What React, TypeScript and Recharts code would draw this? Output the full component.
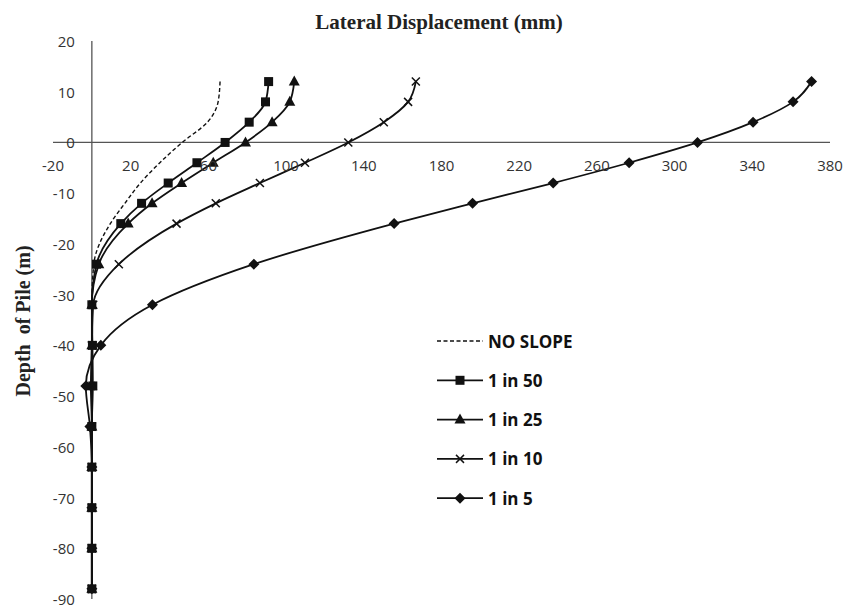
import React from 'react';
import { LineChart, Line, XAxis, YAxis, ReferenceLine } from 'recharts';

// depth of pile (m) at each reading
const depths = [12, 8, 4, 0, -4, -8, -12, -16, -24, -32, -40, -48, -56, -64, -72, -80, -88];

// lateral displacement (mm) per slope case
const noSlope = [66, 65, 59.5, 46.5, 35, 25, 17, 9.5, 1, 0, 0, 0, 0, 0, 0, 0, 0];
const slope50 = [91, 89.4, 81, 68.6, 54.1, 39.3, 25.6, 14.9, 2.4, 0, 0.3, 0.5, 0, 0, 0, 0, 0];
const slope25 = [104.2, 101.9, 92.8, 79.1, 62.5, 46.2, 31, 18.7, 3.6, 0, 0, 0, 0, 0, 0, 0, 0];
const slope10 = [166.8, 162.8, 150.3, 132, 109.7, 86.5, 63.8, 43.6, 13.9, 0.7, 0, -0.5, 0, 0, 0, 0, 0];
const slope5 = [370.5, 361, 340.4, 311.8, 276.6, 237.5, 196, 155.6, 83.4, 31.2, 4.6, -3.1, -1, 0, 0, 0, 0];

const xTicks = [-20, 20, 60, 100, 140, 180, 220, 260, 300, 340, 380];
const yTicks = [20, 10, 0, -10, -20, -30, -40, -50, -60, -70, -80, -90];

const W = 858;
const H = 611;
const X_MIN = -20, X_MAX = 380, Y_MIN = -90, Y_MAX = 20;
const PLOT_LEFT = 53, PLOT_TOP = 41, PLOT_W = 777, PLOT_H = 558;

const data = depths.map((d, i) => ({
  depth: d,
  none: noSlope[i],
  s50: slope50[i],
  s25: slope25[i],
  s10: slope10[i],
  s5: slope5[i],
}));

const INK = '#111';
const tickFont = { fontFamily: 'Open Sans', fontSize: 15, fill: '#333' };

const Marker = ({ shape, cx, cy }: { shape: string; cx: number; cy: number }) => {
  if (shape === 'square') return <rect x={cx - 4.5} y={cy - 4.5} width={9} height={9} fill={INK} />;
  if (shape === 'triangle')
    return <polygon points={`${cx},${cy - 6} ${cx - 5.5},${cy + 4} ${cx + 5.5},${cy + 4}`} fill={INK} />;
  if (shape === 'cross')
    return (
      <g stroke={INK} strokeWidth={1.5}>
        <line x1={cx - 4} y1={cy - 4} x2={cx + 4} y2={cy + 4} />
        <line x1={cx - 4} y1={cy + 4} x2={cx + 4} y2={cy - 4} />
      </g>
    );
  if (shape === 'diamond')
    return <polygon points={`${cx},${cy - 5.5} ${cx + 5.5},${cy} ${cx},${cy + 5.5} ${cx - 5.5},${cy}`} fill={INK} />;
  return null;
};

const series = [
  { key: 'none', name: 'NO SLOPE', shape: 'none', dash: '4 2.5' },
  { key: 's50', name: '1 in 50', shape: 'square', dash: undefined },
  { key: 's25', name: '1 in 25', shape: 'triangle', dash: undefined },
  { key: 's10', name: '1 in 10', shape: 'cross', dash: undefined },
  { key: 's5', name: '1 in 5', shape: 'diamond', dash: undefined },
];

const zeroY = PLOT_TOP + ((Y_MAX - 0) / (Y_MAX - Y_MIN)) * PLOT_H;
const zeroX = PLOT_LEFT + ((0 - X_MIN) / (X_MAX - X_MIN)) * PLOT_W;

const XTick = (props: any) => (
  <text x={props.x} y={zeroY + 23} textAnchor="middle" dominantBaseline="central" {...tickFont}>
    {props.payload.value}
  </text>
);

const YTick = (props: any) => (
  <text x={zeroX - 17} y={props.y} textAnchor="end" dominantBaseline="central" {...tickFont}>
    {props.payload.value}
  </text>
);

export default function App() {
  return (
    <div style={{ position: 'absolute', left: 0, top: 0, width: W, height: H, background: '#fff' }}>
      <LineChart
        width={W}
        height={H}
        data={data}
        layout="vertical"
        margin={{ top: 11, right: 28, bottom: 12, left: 23 }}
      >
        <XAxis
          type="number"
          orientation="top"
          height={30}
          domain={[X_MIN, X_MAX]}
          ticks={xTicks}
          interval={0}
          axisLine={false}
          tickLine={false}
          tick={XTick}
          allowDataOverflow
        />
        <YAxis
          type="number"
          dataKey="depth"
          width={30}
          domain={[Y_MIN, Y_MAX]}
          ticks={yTicks}
          interval={0}
          reversed
          axisLine={false}
          tickLine={false}
          tick={YTick}
          allowDataOverflow
        />
        <ReferenceLine y={0} stroke="#555" strokeWidth={1.3} />
        <ReferenceLine x={0} stroke="#555" strokeWidth={1.3} />
        {series.map((s) => (
          <Line
            key={s.key}
            dataKey={s.key}
            name={s.name}
            type="monotone"
            stroke={INK}
            strokeWidth={s.dash ? 1.4 : 1.8}
            strokeDasharray={s.dash}
            isAnimationActive={false}
            dot={(p: any) => <Marker key={`${s.key}-${p.index}`} shape={s.shape} cx={p.cx} cy={p.cy} />}
            activeDot={false}
          />
        ))}
      </LineChart>
      <svg
        width={W}
        height={H}
        style={{ position: 'absolute', left: 0, top: 0, pointerEvents: 'none' }}
      >
        <text
          x={439}
          y={29}
          textAnchor="middle"
          fontFamily="Liberation Serif"
          fontWeight="bold"
          fontSize={21}
          fill="#222"
        >
          Lateral Displacement (mm)
        </text>
        <text
          transform="translate(30,321) rotate(-90)"
          textAnchor="middle"
          fontFamily="Liberation Serif"
          fontWeight="bold"
          fontSize={20}
          fill="#222"
          style={{ whiteSpace: 'pre' }}
        >
          Depth  of Pile (m)
        </text>
        {series.map((s, i) => {
          const cy = 341 + i * 39.3;
          return (
            <g key={s.key}>
              <line x1={437} y1={cy} x2={483} y2={cy} stroke={INK} strokeWidth={s.dash ? 1.4 : 1.8} strokeDasharray={s.dash} />
              <Marker shape={s.shape} cx={460} cy={cy} />
              <text
                x={488}
                y={cy}
                dominantBaseline="central"
                fontFamily="Open Sans"
                fontWeight="bold"
                fontSize={17}
                fill="#111"
              >
                {s.name}
              </text>
            </g>
          );
        })}
      </svg>
    </div>
  );
}
